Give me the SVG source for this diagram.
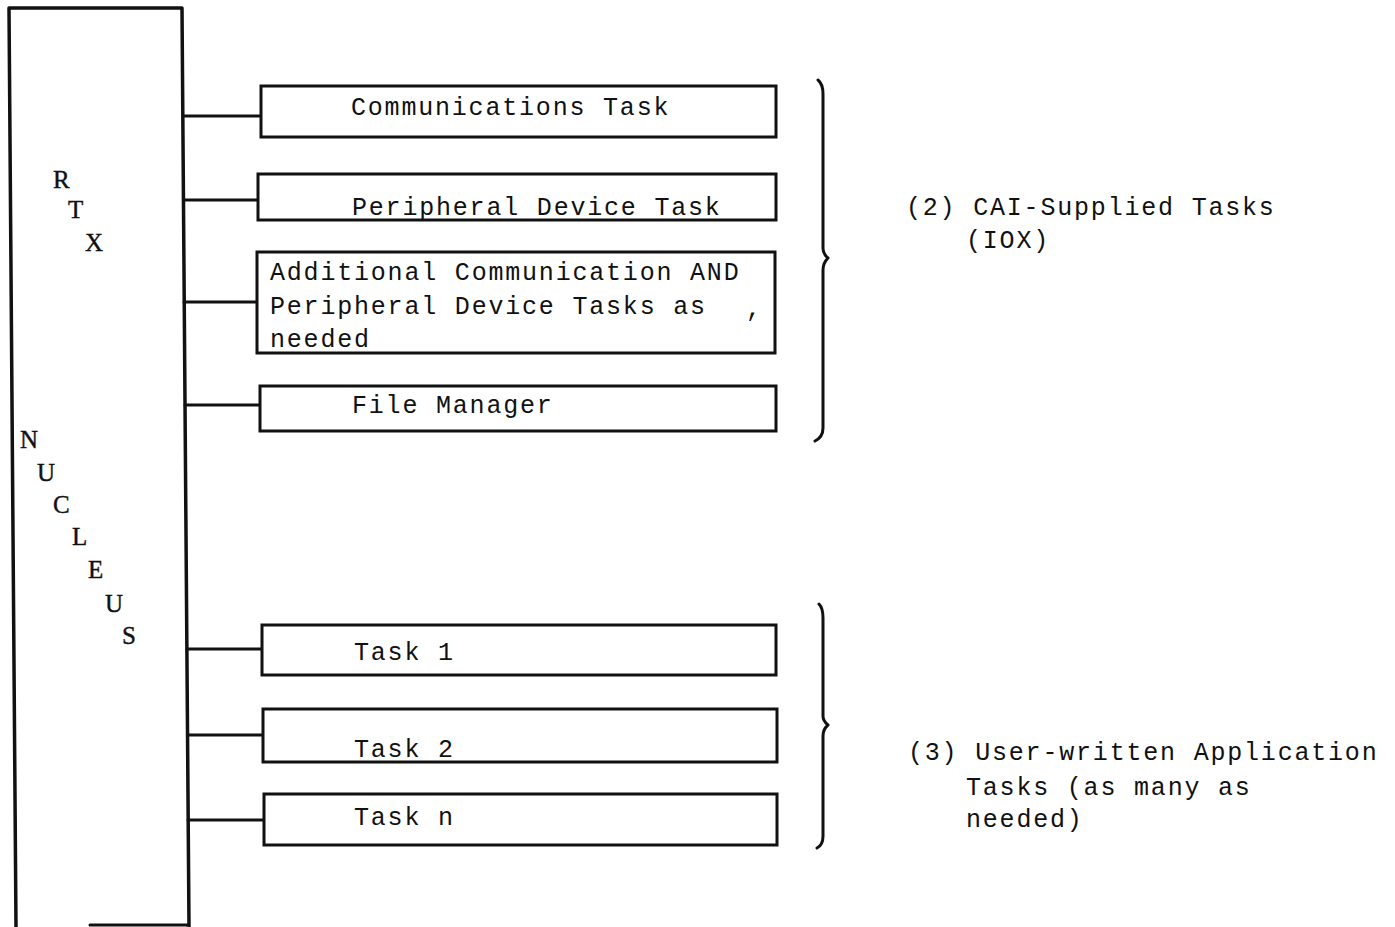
<svg xmlns="http://www.w3.org/2000/svg" width="1395" height="927" viewBox="0 0 1395 927">
<style>
  .ln{fill:none;stroke:#111;stroke-width:3;stroke-linecap:round;stroke-linejoin:round}
  .bx{fill:#fff;stroke:#111;stroke-width:3}
  .t{font-family:"Liberation Mono","DejaVu Sans Mono",monospace;font-size:25px;letter-spacing:1.8px;fill:#111}
  .v{font-family:"Liberation Serif","DejaVu Serif",serif;font-size:25px;fill:#111;stroke:#111;stroke-width:0.4}
</style>
<rect width="1395" height="927" fill="#fff"/>
<g id="nucleus">
  <path class="ln" d="M16,927 L9,8 L182,8 L189,927" style="stroke-width:3.5"/>
  <path class="ln" d="M90,925 L188,925"/>
  <text class="v" x="53" y="188">R</text>
  <text class="v" x="68" y="218">T</text>
  <text class="v" x="85" y="251">X</text>
  <text class="v" x="20" y="448">N</text>
  <text class="v" x="37" y="481">U</text>
  <text class="v" x="53" y="513">C</text>
  <text class="v" x="72" y="545">L</text>
  <text class="v" x="88" y="578">E</text>
  <text class="v" x="105" y="612">U</text>
  <text class="v" x="122" y="644">S</text>
</g>
<g id="connectors">
  <path class="ln" d="M183,116 L261,116"/>
  <path class="ln" d="M183.5,200 L257,200"/>
  <path class="ln" d="M184,302 L258,302"/>
  <path class="ln" d="M185,405 L260,405"/>
  <path class="ln" d="M187,649 L262,649"/>
  <path class="ln" d="M187.5,735 L263,735"/>
  <path class="ln" d="M188,820 L264,820"/>
</g>
<g id="comm-task">
  <rect class="bx" x="261" y="86" width="515" height="51"/>
  <text class="t" x="351" y="115">Communications Task</text>
</g>
<g id="peripheral-task">
  <rect class="bx" x="258" y="174" width="518" height="46"/>
  <text class="t" x="352" y="215">Peripheral Device Task</text>
</g>
<g id="additional-tasks">
  <rect class="bx" x="257" y="252" width="518" height="101"/>
  <text class="t" x="270" y="280">Additional Communication AND</text>
  <text class="t" x="270" y="314">Peripheral Device Tasks as</text>
  <text class="t" x="270" y="347">needed</text>
  <text class="t" x="746" y="316">,</text>
</g>
<g id="file-manager">
  <rect class="bx" x="260" y="386" width="516" height="45"/>
  <text class="t" x="352" y="413">File Manager</text>
</g>
<g id="task-1">
  <rect class="bx" x="262" y="625" width="514" height="50"/>
  <text class="t" x="354" y="660">Task 1</text>
</g>
<g id="task-2">
  <rect class="bx" x="263" y="709" width="514" height="53"/>
  <text class="t" x="354" y="757">Task 2</text>
</g>
<g id="task-n">
  <rect class="bx" x="264" y="794" width="513" height="51"/>
  <text class="t" x="354" y="825">Task n</text>
</g>
<g id="brace-cai">
  <path class="ln" d="M818,80 Q823,84 823,94 L823,248 Q823,254 828,258 Q823,263 823,270 L823,428 Q823,437 815,441"/>
  <text class="t" x="906" y="215">(2) CAI-Supplied Tasks</text>
  <text class="t" x="966" y="248">(IOX)</text>
</g>
<g id="brace-user">
  <path class="ln" d="M819,604 Q823,608 823,618 L823,716 Q823,721 828,725 Q823,729 823,736 L823,836 Q823,845 817,848"/>
  <text class="t" x="908" y="760">(3) User-written Application</text>
  <text class="t" x="966" y="795">Tasks (as many as</text>
  <text class="t" x="966" y="827">needed)</text>
</g>
</svg>
